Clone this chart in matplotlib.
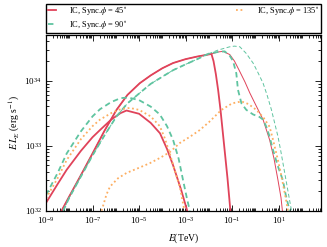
import numpy as np
import matplotlib
matplotlib.use("Agg")
import matplotlib.pyplot as plt
from matplotlib.ticker import FixedLocator, LogLocator, NullFormatter, LogFormatterMathtext

plt.rcParams['font.family'] = ['Liberation Serif', 'DejaVu Serif']
plt.rcParams['mathtext.fontset'] = 'stix'

# log10(E/TeV), log10(E L_E / erg s^-1)
# phi = 45
sync45_x = [-9.0, -8.5, -8.11, -7.5, -7.0, -6.68, -6.2, -5.8, -5.54, -5.0, -4.5, -4.1, -3.8, -3.54, -3.2, -2.89]
sync45_y = [32.12, 32.41, 32.63, 32.92, 33.13, 33.24, 33.40, 33.50, 33.54, 33.49, 33.35, 33.19, 32.95, 32.70, 32.33, 31.95]
ic45_x = [-8.33, -8.0, -7.54, -7.0, -6.5, -5.97, -5.5, -4.97, -4.5, -4.0, -3.54, -3.0, -2.5, -1.89,
          -1.8, -1.7, -1.6, -1.5, -1.4, -1.3, -1.2, -1.1, -1.05]
ic45_y = [32.0, 32.22, 32.52, 32.88, 33.22, 33.55, 33.78, 33.96, 34.08, 34.19, 34.27, 34.33, 34.37, 34.41,
          34.30, 34.10, 33.85, 33.55, 33.20, 32.85, 32.50, 32.10, 31.9]
ic45b_x = [-8.33, -8.0, -7.54, -7.0, -6.5, -5.97, -5.5, -4.97, -4.5, -4.0, -3.54, -3.0, -2.5, -1.89,
           -1.6, -1.39, -1.1, -0.9, -0.7, -0.45, -0.24, 0.05, 0.33, 0.61, 0.8, 0.97, 1.1, 1.16]
ic45b_y = [32.0, 32.22, 32.52, 32.88, 33.22, 33.55, 33.78, 33.96, 34.08, 34.19, 34.27, 34.33, 34.37, 34.41,
           34.44, 34.45, 34.40, 34.30, 34.16, 33.98, 33.81, 33.60, 33.40, 33.09, 32.80, 32.47, 32.2, 32.0]

# phi = 90
sync90_x = [-9.0, -8.5, -8.11, -7.5, -7.0, -6.68, -6.2, -5.8, -5.47, -5.0, -4.5, -4.11, -3.8, -3.54, -3.3, -3.11, -2.95, -2.82]
sync90_y = [32.24, 32.58, 32.88, 33.22, 33.45, 33.56, 33.67, 33.73, 33.74, 33.70, 33.60, 33.48, 33.30, 33.09, 32.80, 32.47, 32.2, 32.0]
ic90_x = [-8.26, -8.0, -7.54, -7.0, -6.5, -5.97, -5.5, -4.97, -4.5, -4.0, -3.54, -3.0, -2.5, -2.1, -1.96,
          -1.6, -1.32, -1.1, -0.96, -0.82, -0.75, -0.6, -0.39, -0.1, 0.18, 0.33, 0.47, 0.6, 0.76, 0.95, 1.18, 1.3, 1.47]
ic90_y = [32.0, 32.2, 32.5, 32.85, 33.15, 33.45, 33.65, 33.81, 33.95, 34.06, 34.16, 34.25, 34.33, 34.40, 34.42,
          34.44, 34.45, 34.38, 34.30, 34.11, 33.86, 33.65, 33.55, 33.48, 33.44, 33.40, 33.29, 33.15, 32.93, 32.70, 32.47, 32.25, 32.0]
ic90b_x = [-8.26, -8.0, -7.54, -7.0, -6.5, -5.97, -5.5, -4.97, -4.5, -4.0, -3.54, -3.0, -2.5, -2.1, -1.6,
           -1.1, -0.9, -0.67, -0.4, -0.10, 0.1, 0.33, 0.5, 0.69, 0.97, 1.1, 1.26, 1.45, 1.55]
ic90b_y = [32.0, 32.2, 32.5, 32.85, 33.15, 33.45, 33.65, 33.81, 33.95, 34.06, 34.16, 34.25, 34.33, 34.40, 34.47,
           34.52, 34.53, 34.52, 34.42, 34.27, 34.13, 33.96, 33.78, 33.55, 33.14, 32.9, 32.58, 32.2, 32.0]

# phi = 135
sync135_x = [-9.0, -8.5, -8.11, -7.5, -7.0, -6.68, -6.2, -5.8, -5.4, -5.0, -4.5, -4.11, -3.9, -3.68, -3.45, -3.25, -3.05]
sync135_y = [32.19, 32.5, 32.78, 33.1, 33.3, 33.40, 33.5, 33.56, 33.58, 33.55, 33.45, 33.30, 33.12, 32.88, 32.6, 32.37, 32.0]
ic135_x = [-6.61, -6.4, -6.25, -5.9, -5.54, -5.0, -4.54, -4.11, -3.68, -3.25, -2.8, -2.39, -2.0, -1.46, -1.0,
           -0.6, -0.3, 0.04, 0.35, 0.61, 0.75, 0.9, 1.05, 1.18, 1.3, 1.4]
ic135_y = [32.0, 32.25, 32.37, 32.5, 32.58, 32.66, 32.73, 32.81, 32.9, 33.04, 33.14, 33.24, 33.36, 33.55, 33.65,
           33.68, 33.64, 33.55, 33.43, 33.29, 33.1, 32.88, 32.65, 32.42, 32.2, 32.0]

labels = [r'IC, Sync.$\phi$ = 45$^{\circ}$', r'IC, Sync.$\phi$ = 90$^{\circ}$', r'IC, Sync.$\phi$ = 135$^{\circ}$']

red = '#e0435a'
green = '#5fc4a0'
orange = '#fdae61'

def p(x, y):
    return 10**np.array(x), 10**np.array(y)

fig = plt.figure(figsize=(3.27, 2.47), dpi=100)
ax = fig.add_axes([0.1407, 0.147, 0.8410, 0.711])

l45, = ax.plot(*p(sync45_x, sync45_y), color=red, lw=1.3, label=labels[0])
ax.plot(*p(ic45_x, ic45_y), color=red, lw=1.3)
ax.plot(*p(ic45b_x, ic45b_y), color=red, lw=0.7)

l90, = ax.plot(*p(sync90_x, sync90_y), color=green, lw=1.3, ls=(0, (3, 2)), label=labels[1])
ax.plot(*p(ic90_x, ic90_y), color=green, lw=1.3, ls=(0, (3, 2)))
ax.plot(*p(ic90b_x, ic90b_y), color=green, lw=0.7, ls=(0, (4, 2.5)))

l135, = ax.plot(*p(sync135_x, sync135_y), color=orange, lw=1.3, ls=(0, (1, 1.5)), label=labels[2])
ax.plot(*p(ic135_x, ic135_y), color=orange, lw=1.3, ls=(0, (1, 1.5)))

ax.set_xscale('log')
ax.set_yscale('log')
ax.set_xlim(1e-9, 10**2.82)
ax.set_ylim(1e32, 10**34.70)

ax.xaxis.set_major_locator(FixedLocator(10.0**np.arange(-9, 3, 2)))
ax.xaxis.set_major_formatter(LogFormatterMathtext())
ax.xaxis.set_minor_locator(LogLocator(base=10, subs=np.arange(1, 10), numticks=60))
ax.xaxis.set_minor_formatter(NullFormatter())
ax.yaxis.set_major_locator(LogLocator(base=10, numticks=10))
ax.yaxis.set_minor_locator(LogLocator(base=10, subs=np.arange(2, 10), numticks=60))
ax.yaxis.set_minor_formatter(NullFormatter())

ax.tick_params(which='both', direction='in', top=True, right=True, labelsize=6.5, pad=3, width=0.6)
ax.tick_params(which='major', length=4)
ax.tick_params(which='minor', length=2)
for s in ax.spines.values():
    s.set_linewidth(0.9)

ax.set_xlabel(r'$E$(TeV)', fontsize=7, labelpad=4)
ax.set_ylabel(r'$E\,L_E$ (erg s$^{-1}$)', fontsize=7, labelpad=2)

leg = ax.legend(handles=[l45, l90, l135], ncol=2, loc='lower left', bbox_to_anchor=(0, 1.012, 1, 0.15),
                mode='expand', borderaxespad=0, fontsize=6, fancybox=False, edgecolor='black',
                framealpha=1, handlelength=1.0, handletextpad=1.6, labelspacing=0.25, borderpad=0.2)
leg.get_frame().set_linewidth(1.0)

fig.savefig('out.png', dpi=100)
